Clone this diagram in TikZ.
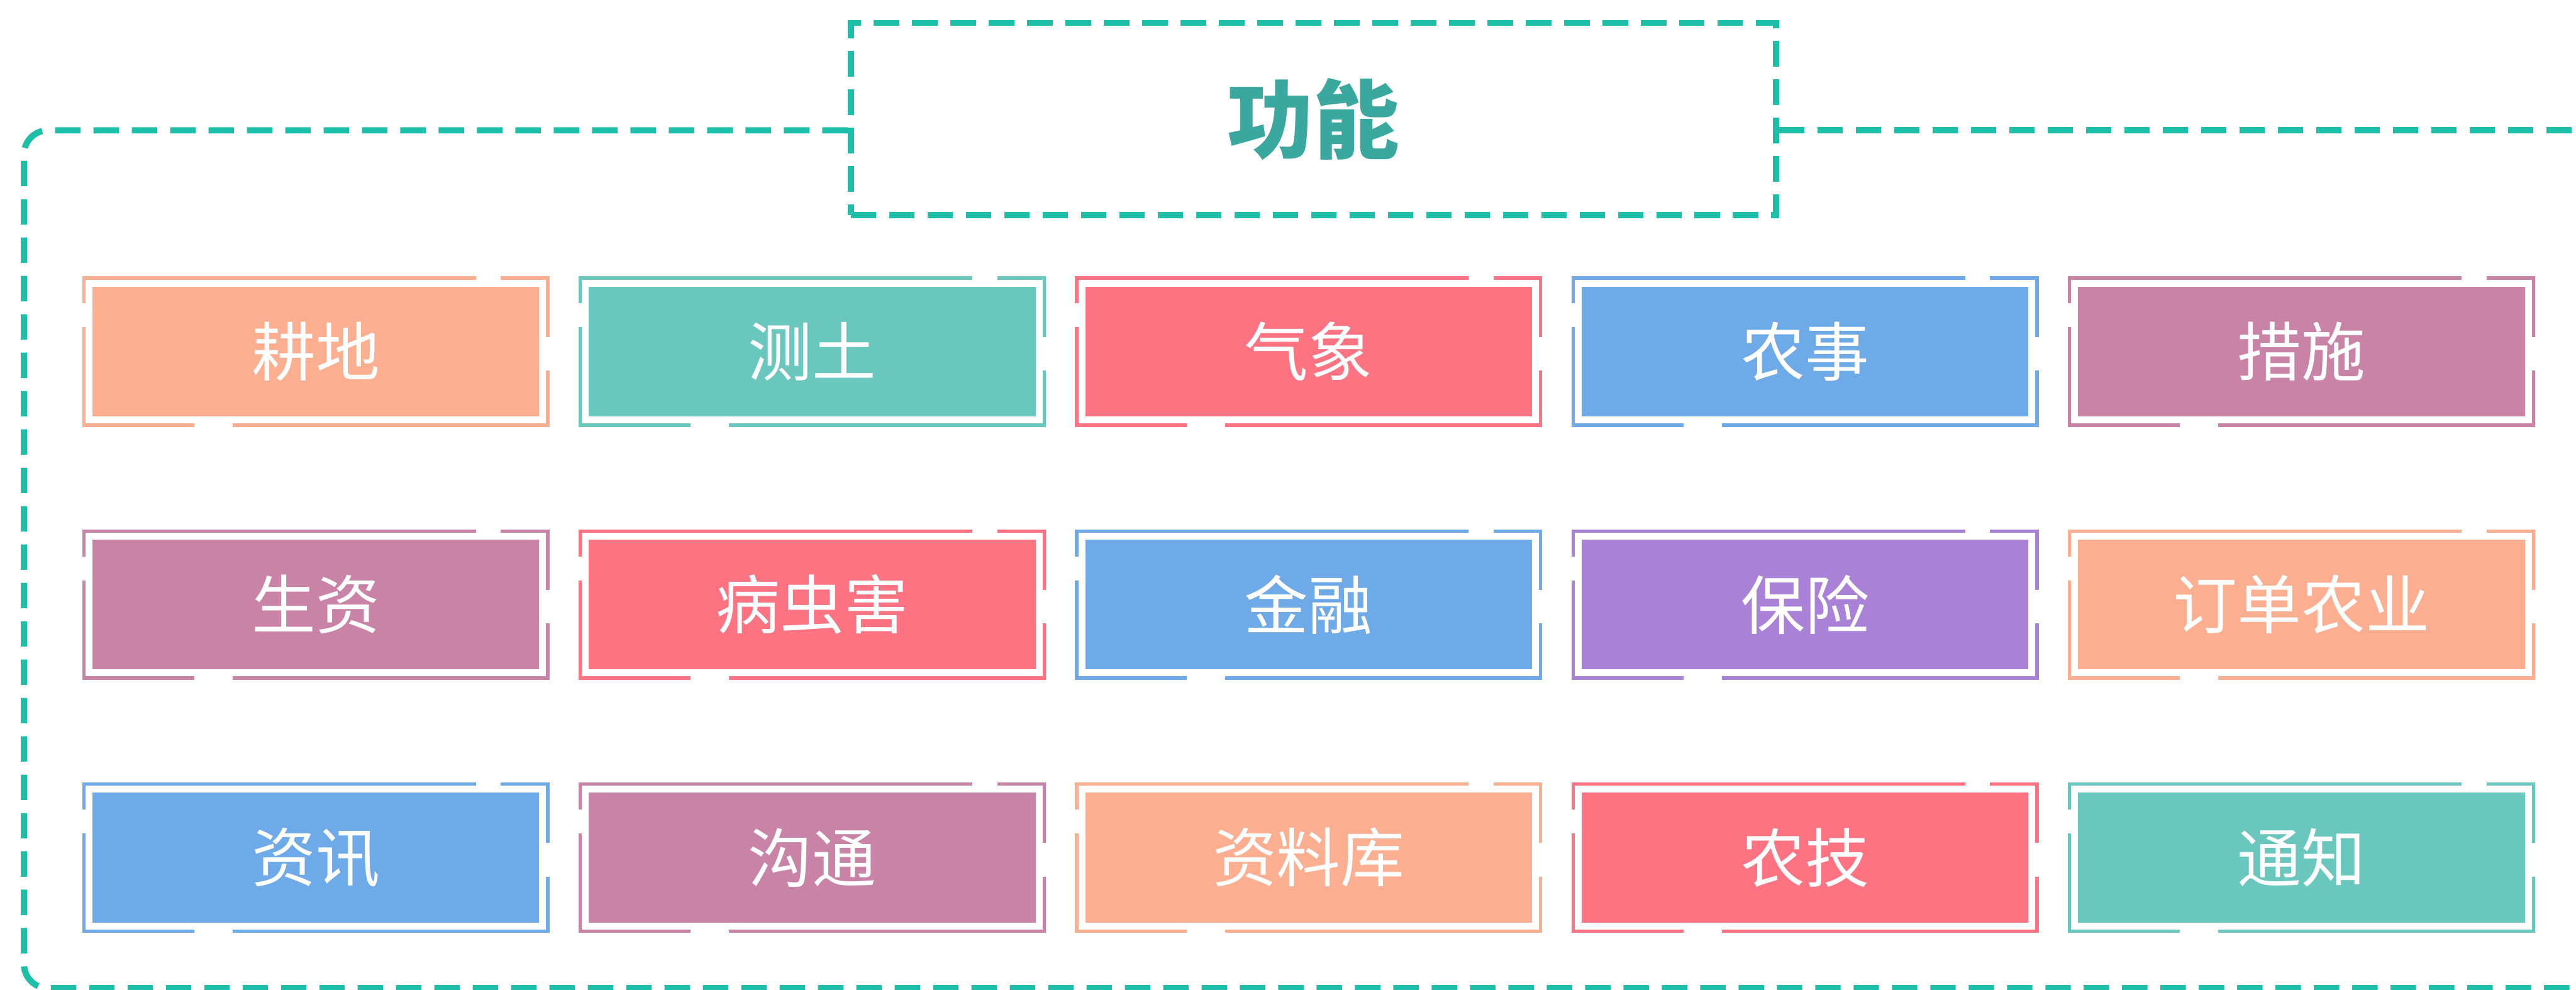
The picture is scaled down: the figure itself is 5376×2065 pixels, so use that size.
\documentclass[tikz,border=0pt]{standalone}
\usepackage{fontspec}
\setmainfont{Noto Sans CJK SC}
\definecolor{cPeach}{HTML}{FCAE90}
\definecolor{cTeal}{HTML}{6AC7BE}
\definecolor{cRed}{HTML}{FE7381}
\definecolor{cBlue}{HTML}{6FAAE8}
\definecolor{cMauve}{HTML}{C983A6}
\definecolor{cPurple}{HTML}{A982D8}
\definecolor{cDash}{HTML}{1DBFA8}
\definecolor{cTitle}{HTML}{3AA89E}
\tikzset{
  dashline/.style={draw=cDash, line width=3.7pt, dash pattern=on 0.53cm off 0.27cm},
  titlebox/.style={dashline, minimum width=19.30cm, minimum height=4.01cm, inner sep=0pt,
    text=cTitle, font=\fontsize{51pt}{54pt}\selectfont\bfseries},
  cardfill/.style={minimum width=9.32cm, minimum height=2.71cm, inner sep=0pt,
    text=white, font=\fontsize{38pt}{40pt}\selectfont},
  cardline/.style={line width=2pt, line cap=butt, line join=miter}
}
\newcommand\mycard[5]{%
\begin{scope}[shift={(#2,#3)}]
  \node[cardfill, fill=#4] (#1) at (484,153.5) {#5};
  \draw[cardline, draw=#4] (0,53) -- (0,0) -- (818,0);
  \draw[cardline, draw=#4] (870,0) -- (968,0) -- (968,123);
  \draw[cardline, draw=#4] (968,193) -- (968,307) -- (310,307);
  \draw[cardline, draw=#4] (230,307) -- (0,307) -- (0,103);
\end{scope}}
\begin{document}
\begin{tikzpicture}[x=0.01cm, y=-0.01cm]
  \useasboundingbox (0,0) rectangle (5376,2065);
  \fill[white] (0,0) rectangle (5376,2065);
  % title box
  \node[titlebox] (title) at (2741,248.5) {功能};
  % outer frame
  \coordinate (oL) at (title.west |- 0,272);
  \coordinate (oR) at (title.east |- 0,272);
  \coordinate (cTL) at (50,272);
  \coordinate (cBL) at (50,2062);
  \coordinate (eB) at (5440,2062);
  \coordinate (eT) at (5440,272);
  \draw[dashline, rounded corners=0.5cm] (oL) -- (cTL) -- (cBL) -- (eB);
  \draw[dashline] (oR) -- (eT);
  % cards
  \mycard{c11}{175}{580}{cPeach}{耕地}
  \mycard{c12}{1211}{580}{cTeal}{测土}
  \mycard{c13}{2247}{580}{cRed}{气象}
  \mycard{c14}{3283}{580}{cBlue}{农事}
  \mycard{c15}{4319}{580}{cMauve}{措施}
  \mycard{c21}{175}{1108}{cMauve}{生资}
  \mycard{c22}{1211}{1108}{cRed}{病虫害}
  \mycard{c23}{2247}{1108}{cBlue}{金融}
  \mycard{c24}{3283}{1108}{cPurple}{保险}
  \mycard{c25}{4319}{1108}{cPeach}{订单农业}
  \mycard{c31}{175}{1636}{cBlue}{资讯}
  \mycard{c32}{1211}{1636}{cMauve}{沟通}
  \mycard{c33}{2247}{1636}{cPeach}{资料库}
  \mycard{c34}{3283}{1636}{cRed}{农技}
  \mycard{c35}{4319}{1636}{cTeal}{通知}
\end{tikzpicture}
\end{document}
